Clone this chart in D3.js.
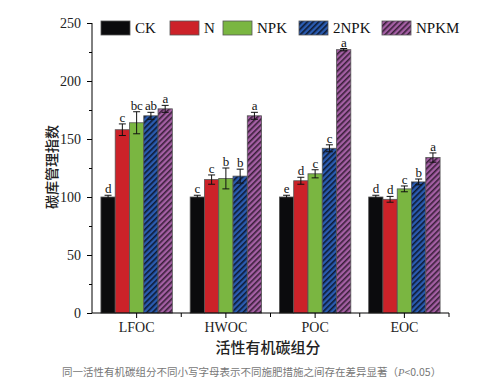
<!DOCTYPE html>
<html><head><meta charset="utf-8">
<script src="https://cdn.jsdelivr.net/npm/d3@7"></script>
<style>body{margin:0;background:#fff}svg{display:block}</style>
</head><body>
<script>
const categories = ["LFOC","HWOC","POC","EOC"];
const seriesNames = ["CK","N","NPK","2NPK","NPKM"];
const CK   = [100, 100, 100, 100];
const N    = [158, 115, 114, 98];
const NPK  = [164, 116, 120, 107];
const NPK2 = [170, 118, 142, 113];
const NPKM = [176, 170, 227, 134];
const errCK   = [1.5, 1.5, 1.5, 1.5];
const errN    = [5, 4, 3, 2.5];
const errNPK  = [9.5, 9, 3.5, 2.5];
const errNPK2 = [3, 6, 3, 2.5];
const errNPKM = [3, 3, 1, 4];
const lettersCK   = ["d","c","e","d"];
const lettersN    = ["c","c","d","d"];
const lettersNPK  = ["bc","b","c","c"];
const lettersNPK2 = ["ab","b","c","b"];
const lettersNPKM = ["a","a","a","a"];
const yTicks = [0,50,100,150,200,250];

const values = [CK,N,NPK,NPK2,NPKM];
const errs = [errCK,errN,errNPK,errNPK2,errNPKM];
const letters = [lettersCK,lettersN,lettersNPK,lettersNPK2,lettersNPKM];

const W=500,H=390;
const svg=d3.select("body").append("svg").attr("width",W).attr("height",H);
const defs=svg.append("defs");
function hatch(id,bg,line){
  const p=defs.append("pattern").attr("id",id).attr("patternUnits","userSpaceOnUse")
    .attr("width",4).attr("height",4).attr("patternTransform","rotate(45)");
  p.append("rect").attr("width",4).attr("height",4).attr("fill",bg);
  p.append("rect").attr("x",0).attr("width",1.6).attr("height",4).attr("fill",line);
}
hatch("h2npk","#2a5bb0","#0d1a33");
hatch("hnpkm","#a45fa4","#3a1f3a");
const fills=["#0b0b0d","#cc2229","#7ab641","url(#h2npk)","url(#hnpkm)"];

const L=92,R=449,T=23,B=313;
const x=d3.scaleBand().domain(categories).range([L,R]).paddingInner(0.2).paddingOuter(0.1);
const xs=d3.scaleBand().domain(seriesNames).range([0,x.bandwidth()]);
const y=d3.scaleLinear().domain([0,250]).range([B,T]);

const serif="'Liberation Serif','Times New Roman',serif";
const cjk="'Noto Sans CJK SC',sans-serif";

// bars
seriesNames.forEach((s,i)=>{
  const g=svg.append("g");
  categories.forEach((c,j)=>{
    const bx=x(c)+xs(s), bw=xs.bandwidth(), v=values[i][j], e=errs[i][j];
    g.append("rect").attr("x",bx).attr("y",y(v)).attr("width",bw).attr("height",B-y(v))
      .attr("fill",fills[i]).attr("stroke","#555").attr("stroke-width",0.8);
    const cx=bx+bw/2;
    g.append("line").attr("x1",cx).attr("x2",cx).attr("y1",y(v+e)).attr("y2",y(v-e)).attr("stroke","#111").attr("stroke-width",1);
    [v+e,v-e].forEach(t=>g.append("line").attr("x1",cx-3.5).attr("x2",cx+3.5).attr("y1",y(t)).attr("y2",y(t)).attr("stroke","#111").attr("stroke-width",1));
    g.append("text").attr("x",cx).attr("y",y(v+e)-2).attr("text-anchor","middle")
      .attr("font-family",serif).attr("font-size",13).attr("letter-spacing",-0.3).attr("fill","#111").text(letters[i][j]);
  });
});

// y axis
const ya=svg.append("g").attr("transform",`translate(${L},0)`)
  .call(d3.axisLeft(y).tickValues(yTicks).tickSize(5).tickSizeOuter(0));
ya.select(".domain").attr("d",`M0,${B}V${T}`);
ya.selectAll("text").attr("font-family",serif).attr("font-size",14).attr("fill","#222").attr("dx","-3");
svg.append("g").attr("transform",`translate(${L},0)`)
  .call(d3.axisLeft(y).tickValues([25,75,125,175,225]).tickSize(3).tickFormat(""))
  .select(".domain").remove();

// x axis
const xa=svg.append("g").attr("transform",`translate(0,${B})`)
  .call(d3.axisBottom(x).tickSize(5).tickSizeOuter(0));
xa.select(".domain").attr("d",`M${L},0H${R}`);
xa.selectAll("text").attr("font-family",serif).attr("font-size",14).attr("fill","#222").attr("dy","0.8em");
const bounds=categories.slice(1).map(c=>x(c)-x.step()*x.paddingInner()/2).concat([R]);
svg.append("g").selectAll("line").data(bounds).join("line")
  .attr("x1",d=>d).attr("x2",d=>d).attr("y1",B).attr("y2",B+4).attr("stroke","#000");
svg.selectAll(".tick line").attr("stroke","#000");
svg.selectAll(".domain").attr("stroke","#000");

// axis titles
svg.append("text").attr("transform",`translate(57,${167}) rotate(-90)`).attr("text-anchor","middle")
  .attr("font-family",cjk).attr("font-size",14).attr("font-weight",500).attr("fill","#222").text("碳库管理指数");
svg.append("text").attr("x",268).attr("y",353).attr("text-anchor","middle")
  .attr("font-family",cjk).attr("font-size",15).attr("font-weight",500).attr("fill","#222").text("活性有机碳组分");

// footnote
const fn=svg.append("text").attr("x",62).attr("y",376).attr("font-family",cjk).attr("font-size",10.5).attr("fill","#777");
fn.append("tspan").text("同一活性有机碳组分不同小写字母表示不同施肥措施之间存在差异显著（");
fn.append("tspan").attr("font-family",serif).attr("font-style","italic").text("P");
fn.append("tspan").text("<0.05）");

// legend
const legX=[101,170,223,299,382];
seriesNames.forEach((s,i)=>{
  svg.append("rect").attr("x",legX[i]).attr("y",21).attr("width",29).attr("height",14)
    .attr("fill",fills[i]).attr("stroke","#555").attr("stroke-width",0.8);
  svg.append("text").attr("x",legX[i]+34).attr("y",33).attr("font-family",serif).attr("font-size",15)
    .attr("fill","#111").text(s);
});
</script>
</body></html>
